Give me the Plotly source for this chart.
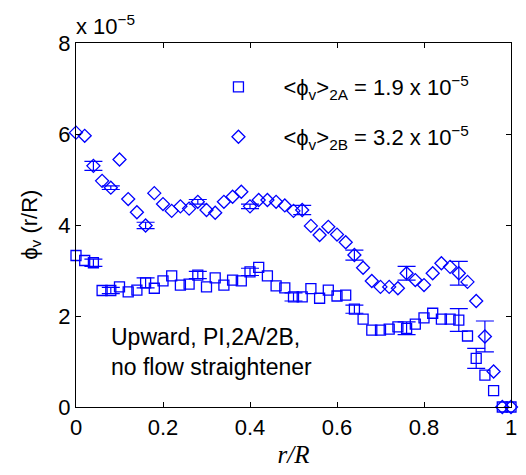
import plotly.graph_objects as go

# radial positions r/R
r_pos = [0.00, 0.02, 0.04, 0.06, 0.08, 0.10, 0.12, 0.14, 0.16, 0.18,
         0.20, 0.22, 0.24, 0.26, 0.28, 0.30, 0.32, 0.34, 0.36, 0.38,
         0.40, 0.42, 0.44, 0.46, 0.48, 0.50, 0.52, 0.54, 0.56, 0.58,
         0.60, 0.62, 0.64, 0.66, 0.68, 0.70, 0.72, 0.74, 0.76, 0.78,
         0.80, 0.82, 0.84, 0.86, 0.88, 0.90, 0.92, 0.94, 0.96, 0.98, 1.00]

# phi_v (r/R), in units of 1e-5
phi_2a = [3.33, 3.22, 3.17, 2.56, 2.56, 2.64, 2.53, 2.57, 2.73, 2.61,
          2.77, 2.88, 2.68, 2.70, 2.90, 2.64, 2.84, 2.68, 2.79, 2.77,
          2.97, 3.07, 2.88, 2.66, 2.62, 2.42, 2.42, 2.60, 2.39, 2.57,
          2.44, 2.46, 2.15, 1.93, 1.69, 1.69, 1.71, 1.76, 1.73, 1.82,
          1.96, 2.06, 1.93, 1.93, 1.91, 1.56, 1.07, 0.70, 0.36, 0.00, 0.00]

phi_2b = [6.03, 5.96, 5.30, 4.97, 4.82, 5.44, 4.57, 4.28, 3.99, 4.70,
          4.46, 4.31, 4.41, 4.36, 4.51, 4.33, 4.27, 4.51, 4.62, 4.73,
          4.41, 4.55, 4.55, 4.51, 4.43, 4.31, 4.33, 3.98, 3.78, 3.96,
          3.79, 3.62, 3.34, 3.06, 2.77, 2.64, 2.64, 2.61, 2.94, 2.79,
          2.68, 2.94, 3.16, 3.08, 2.94, 2.75, 2.33, 1.55, 0.78, 0.00, 0.00]

# points carrying error bars (index into r_pos) and their half-ranges
err_idx_2a = [2, 4, 8, 14, 20, 25, 32, 38, 44, 46]
err_val_2a = [0.08, 0.07, 0.11, 0.08, 0.08, 0.09, 0.09, 0.14, 0.25, 0.22]
err_idx_2b = [2, 4, 8, 14, 20, 26, 32, 38, 44, 47]
err_val_2b = [0.10, 0.04, 0.07, 0.05, 0.05, 0.10, 0.11, 0.15, 0.26, 0.34]

x_ticks = [0, 0.2, 0.4, 0.6, 0.8, 1]
x_tick_text = ['0', '0.2', '0.4', '0.6', '0.8', '1']
y_ticks = [0, 2, 4, 6, 8]

label_2a = '&lt;ϕ<sub>v</sub>&gt;<sub>2A</sub> = 1.9 x 10<sup>−5</sup>'
label_2b = '&lt;ϕ<sub>v</sub>&gt;<sub>2B</sub> = 3.2 x 10<sup>−5</sup>'
note_lines = ['Upward, PI,2A/2B,', 'no flow straightener']

BLUE = '#0000ff'
SANS = 'Liberation Sans, Arial, sans-serif'

fig = go.Figure()

fig.add_trace(go.Scatter(
    x=[r_pos[i] for i in err_idx_2a], y=[phi_2a[i] for i in err_idx_2a],
    mode='markers', marker=dict(color='rgba(0,0,0,0)', size=2),
    error_y=dict(type='data', array=err_val_2a, color=BLUE, thickness=1.2, width=9),
    showlegend=False, hoverinfo='skip', cliponaxis=False))
fig.add_trace(go.Scatter(
    x=[r_pos[i] for i in err_idx_2b], y=[phi_2b[i] for i in err_idx_2b],
    mode='markers', marker=dict(color='rgba(0,0,0,0)', size=2),
    error_y=dict(type='data', array=err_val_2b, color=BLUE, thickness=1.2, width=9),
    showlegend=False, hoverinfo='skip', cliponaxis=False))

fig.add_trace(go.Scatter(
    x=r_pos, y=phi_2a, mode='markers', name=label_2a,
    marker=dict(symbol='square-open', size=10, color=BLUE, line=dict(width=1.3, color=BLUE)),
    cliponaxis=False, legend='legend'))
fig.add_trace(go.Scatter(
    x=r_pos, y=phi_2b, mode='markers', name=label_2b,
    marker=dict(symbol='diamond-open', size=10, color=BLUE, line=dict(width=1.3, color=BLUE)),
    cliponaxis=False, legend='legend2'))

legend_style = dict(x=0.27, xanchor='left', yanchor='middle', itemwidth=80,
                    bgcolor='rgba(0,0,0,0)', font=dict(family=SANS, size=22, color='black'))
fig.update_layout(
    width=526, height=475,
    margin=dict(l=76, r=9, t=43, b=68),
    plot_bgcolor='white', paper_bgcolor='white',
    font=dict(family=SANS, size=22, color='black'),
    legend=dict(y=0.879, **legend_style),
    legend2=dict(y=0.742, **legend_style),
)

axis_style = dict(showline=True, linecolor='black', linewidth=1.3, mirror='ticks',
                  ticks='inside', ticklen=5, tickcolor='black', showgrid=False,
                  zeroline=False, tickfont=dict(family=SANS, size=22, color='black'))
fig.update_xaxes(range=[0, 1], tickvals=x_ticks, ticktext=x_tick_text,
                 title=dict(text='<i>r/R</i>', standoff=6,
                            font=dict(family='Liberation Serif, Times New Roman, serif', size=25)),
                 **axis_style)
fig.update_yaxes(range=[0, 8], tickvals=y_ticks, **axis_style)

# y-axis title placed as rotated annotation
fig.add_annotation(xref='paper', yref='paper', x=-0.104, y=0.5, xanchor='center', yanchor='middle',
                   textangle=-90, showarrow=False, text='ϕ<sub>v</sub> (r/R)',
                   font=dict(family=SANS, size=22))
fig.add_annotation(xref='paper', yref='paper', x=0, y=1, xanchor='left', yanchor='bottom',
                   xshift=-2, yshift=2, showarrow=False, text='x 10<sup>−5</sup>',
                   font=dict(family=SANS, size=22))
fig.add_annotation(xref='paper', yref='paper', x=0.075, y=0.151, xanchor='left', yanchor='middle',
                   align='left', showarrow=False, text='<br>'.join(note_lines),
                   font=dict(family=SANS, size=23))

fig.write_html('out.html', config={'displayModeBar': False},
               post_script="document.body.style.margin='0';")
